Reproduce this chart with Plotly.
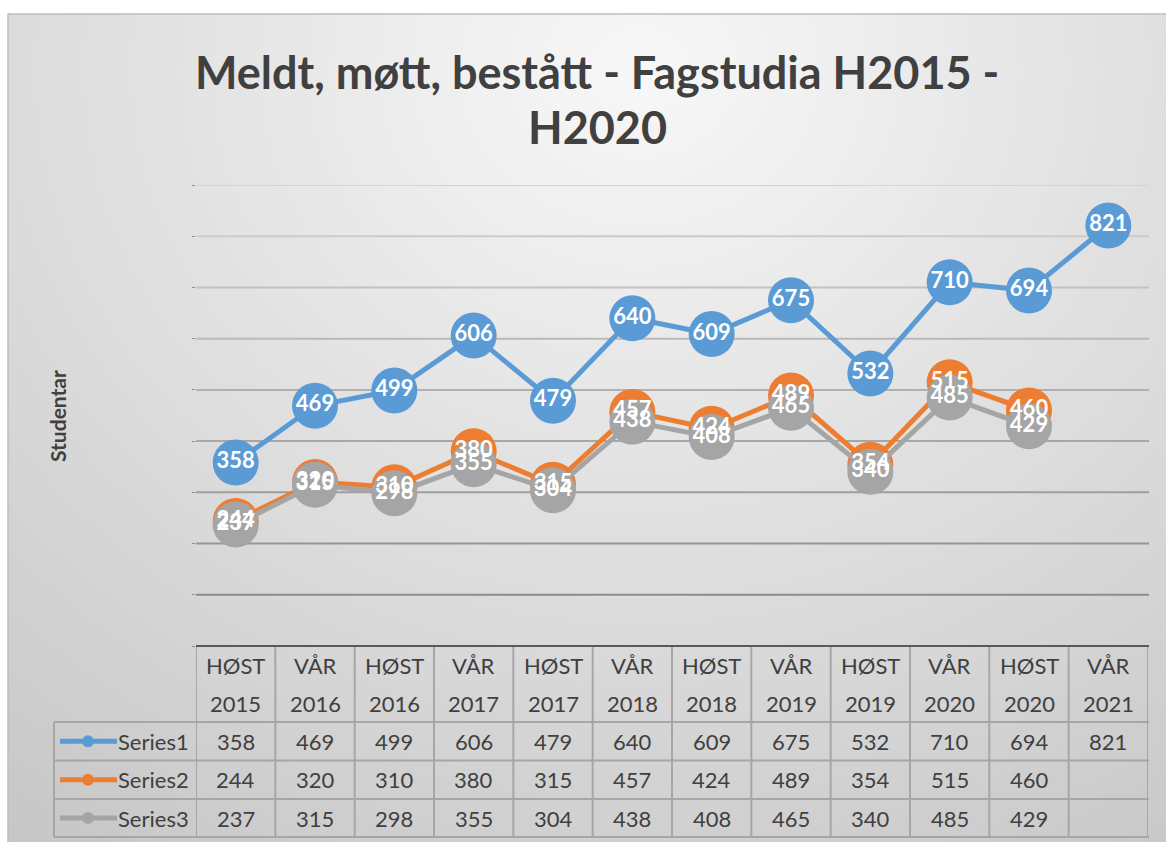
import plotly.graph_objects as go

# ---------------- data ----------------
categories = ["HØST 2015", "VÅR 2016", "HØST 2016", "VÅR 2017", "HØST 2017", "VÅR 2018",
              "HØST 2018", "VÅR 2019", "HØST 2019", "VÅR 2020", "HØST 2020", "VÅR 2021"]
series_names = ["Series1", "Series2", "Series3"]
series1 = [358, 469, 499, 606, 479, 640, 609, 675, 532, 710, 694, 821]
series2 = [244, 320, 310, 380, 315, 457, 424, 489, 354, 515, 460, None]
series3 = [237, 315, 298, 355, 304, 438, 408, 465, 340, 485, 429, None]
colors = ["#5B9BD5", "#ED7D31", "#A5A5A5"]
title_lines = ["Meldt, møtt, bestått - Fagstudia H2015 -", "H2020"]
y_title = "Studentar"
y_max = 900
y_step = 100

W, H = 1166, 842
FONT = "Lato"


def px(x):
    return x / W


def py(y):
    return 1 - y / H


all_series = [series1, series2, series3]
fig = go.Figure()

# lines + markers
for name, vals, col in zip(series_names, all_series, colors):
    fig.add_trace(go.Scatter(
        x=categories, y=vals, name=name, mode="lines+markers",
        line=dict(color=col, width=5),
        marker=dict(color=col, size=46, line=dict(width=0)),
        connectgaps=False, showlegend=False, hoverinfo="skip"))

# data labels on top of all markers
for name, vals in zip(series_names, all_series):
    fig.add_trace(go.Scatter(
        x=categories, y=vals, mode="text",
        text=[("" if v is None else str(v)) for v in vals],
        textposition="middle center",
        textfont=dict(family=FONT, size=22, color="white", weight="bold"),
        showlegend=False, hoverinfo="skip"))

shapes = []
annotations = []

# background radial gradient via concentric ellipses
cx, cy = 640, 70
RX, RY = 1150, 1000
N = 70
for k in range(N, 0, -1):
    t = k / N
    g = int(round(248 - (248 - 196) * t))
    c = f"rgb({g},{g},{g})"
    shapes.append(dict(type="circle", xref="paper", yref="paper",
                       x0=px(cx - RX * t), x1=px(cx + RX * t),
                       y0=py(cy + RY * t), y1=py(cy - RY * t),
                       fillcolor=c, line=dict(width=0), layer="below"))
# white margins outside the chart frame
shapes.append(dict(type="rect", xref="paper", yref="paper", x0=-0.1, x1=1.1,
                   y0=py(14), y1=1.1, fillcolor="white", line=dict(width=0), layer="below"))
shapes.append(dict(type="rect", xref="paper", yref="paper", x0=-0.1, x1=px(8),
                   y0=-0.1, y1=1.1, fillcolor="white", line=dict(width=0), layer="below"))
shapes.append(dict(type="rect", xref="paper", yref="paper", x0=px(8), x1=px(1170),
                   y0=py(846), y1=py(14), fillcolor="rgba(0,0,0,0)",
                   line=dict(color="#BDBDBD", width=1.5), layer="below"))

# gridlines (darker towards the bottom)
nlines = y_max // y_step
for i in range(1, nlines + 1):
    v = i * y_step
    f = (i - 1) / (nlines - 1)
    g = int(round(140 + (212 - 140) * f))
    shapes.append(dict(type="line", xref="paper", yref="y",
                       x0=px(196), x1=px(1149), y0=v, y1=v,
                       line=dict(color=f"rgb({g},{g},{g})", width=2), layer="below"))

# ---------------- data table ----------------
tbl_col = "#A6A6A6"
row_y = [722, 760.5, 799, 837]
n = len(categories)
x_left_leg = 54
shapes.append(dict(type="line", xref="paper", yref="paper", x0=px(196), x1=px(1149),
                   y0=py(646), y1=py(646), line=dict(color="#595959", width=2)))
for i in range(n + 1):
    xv = i - 0.5
    shapes.append(dict(type="line", xref="x", yref="paper", x0=xv, x1=xv,
                       y0=py(837), y1=py(647), line=dict(color=tbl_col, width=2)))
for yy in row_y:
    shapes.append(dict(type="line", xref="paper", yref="paper", x0=px(x_left_leg), x1=px(1149),
                       y0=py(yy), y1=py(yy), line=dict(color=tbl_col, width=2)))
shapes.append(dict(type="line", xref="paper", yref="paper", x0=px(x_left_leg), x1=px(x_left_leg),
                   y0=py(837), y1=py(722), line=dict(color=tbl_col, width=2)))

txt_col = "#404040"
TS = 22
for c in categories:
    a, b = c.split(" ")
    annotations.append(dict(x=c, xref="x", y=py(665), yref="paper", text=a, showarrow=False,
                            yanchor="middle", font=dict(family=FONT, size=TS, color=txt_col)))
    annotations.append(dict(x=c, xref="x", y=py(703), yref="paper", text=b, showarrow=False,
                            yanchor="middle", font=dict(family=FONT, size=TS, color=txt_col)))

for r, (name, vals, col) in enumerate(zip(series_names, all_series, colors)):
    yc = (row_y[r] + row_y[r + 1]) / 2
    for c, v in zip(categories, vals):
        if v is None:
            continue
        annotations.append(dict(x=c, xref="x", y=py(yc), yref="paper", text=str(v),
                                yanchor="middle", showarrow=False,
                                font=dict(family=FONT, size=TS, color=txt_col)))
    shapes.append(dict(type="line", xref="paper", yref="paper", x0=px(60), x1=px(117),
                       y0=py(yc), y1=py(yc), line=dict(color=col, width=5)))
    shapes.append(dict(type="circle", xref="paper", yref="paper", x0=px(82), x1=px(94),
                       y0=py(yc + 6), y1=py(yc - 6), fillcolor=col, line=dict(width=0)))
    annotations.append(dict(x=px(191), xref="paper", y=py(yc), yref="paper", text=name,
                            xanchor="right", yanchor="middle", showarrow=False,
                            font=dict(family=FONT, size=TS, color=txt_col)))

# y axis title
annotations.append(dict(x=px(57), y=py(416), xref="paper", yref="paper", text=y_title,
                        textangle=-90, showarrow=False, xanchor="center", yanchor="middle",
                        font=dict(family=FONT, size=21, color=txt_col, weight="bold")))

# chart title (two centred lines)
for line, yy in zip(title_lines, [72, 127]):
    annotations.append(dict(x=px(597), y=py(yy), xref="paper", yref="paper", text=line,
                            showarrow=False, xanchor="center", yanchor="middle",
                            font=dict(family=FONT, size=45, color=txt_col, weight="bold")))

fig.update_layout(
    width=W, height=H,
    margin=dict(l=0, r=0, t=0, b=0),
    paper_bgcolor="rgb(196,196,196)", plot_bgcolor="rgba(0,0,0,0)",
    xaxis=dict(domain=[px(196), px(1148)], type="category", range=[-0.5, n - 0.5],
               showgrid=False, showticklabels=False, zeroline=False, showline=False,
               fixedrange=True),
    yaxis=dict(domain=[py(646), py(185)], range=[0, y_max], dtick=y_step,
               showgrid=False, showticklabels=False, zeroline=False, showline=False,
               ticks="outside", ticklen=3, tickcolor="#8C8C8C", fixedrange=True),
    shapes=shapes, annotations=annotations,
    showlegend=False,
)

fig.write_html("out.html", config={"displayModeBar": False},
               post_script="document.body.style.margin='0';document.body.style.overflow='hidden';")
